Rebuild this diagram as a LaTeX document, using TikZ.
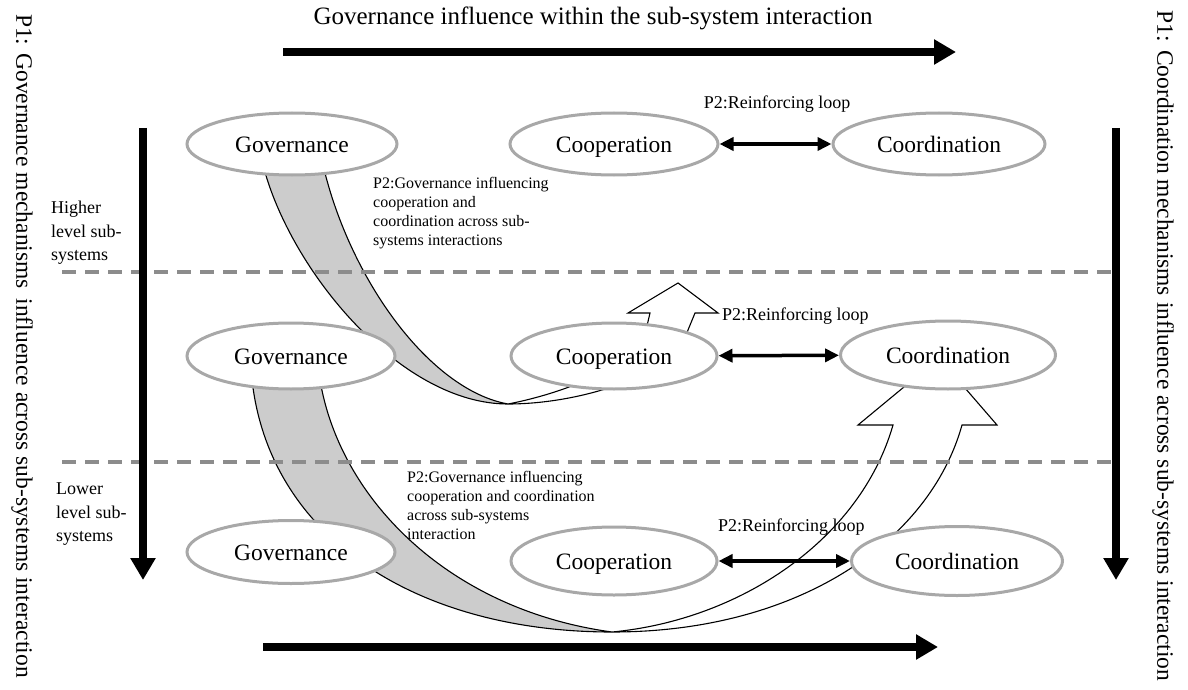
\documentclass[tikz,border=0pt]{standalone}
\usepackage{fontspec}
\setmainfont{Liberation Serif}
\usetikzlibrary{shapes.geometric,arrows.meta}
\definecolor{ringgray}{HTML}{A8A8A8}
\definecolor{bandgray}{HTML}{CCCCCC}
\definecolor{dashgray}{HTML}{8C8C8C}
\begin{document}
\begin{tikzpicture}[x=1pt,y=-1pt,
  mech/.style={ellipse, draw=ringgray, line width=3pt, fill=white, inner sep=0pt,
    text height=16pt, text depth=0pt, font=\fontsize{23.5}{28}\selectfont},
  band/.style={draw=black, line width=1.1pt},
  pair/.style={line width=3.5pt, {Triangle[length=14pt,width=13pt]}-{Triangle[length=14pt,width=13pt]}},
  bigarrow/.style={line width=8pt, -{Triangle[length=22pt,width=24pt]}},
  levelline/.style={draw=dashgray, line width=4pt, dash pattern=on 14pt off 9pt},
  note/.style={inner sep=0pt, align=left, font=\fontsize{16}{19}\selectfont},
  loopnote/.style={inner sep=0pt, font=\fontsize{18}{22}\selectfont},
  sidenote/.style={inner sep=0pt, align=left, font=\fontsize{18}{23.5}\selectfont},
  axisnote/.style={inner sep=0pt, rotate=-90, font=\fontsize{23.5}{28}\selectfont}
]
\useasboundingbox (0,0) rectangle (1188,690);

% influence band from the higher level down to the middle level
\path[band, fill=bandgray] (263,165) .. controls (290,270) and (400,404) .. (508,404)
  .. controls (430,390) and (350,280) .. (323,165) -- cycle;
\path[band, fill=white] (508,404) .. controls (580,404) and (675,375) .. (688,330)
  -- (695,313) -- (718,313) -- (678,283) -- (628,313) -- (650,313) -- (646,330)
  .. controls (630,372) and (550,396) .. (508,404) -- cycle;

% influence band from the middle level down to the lower level
\path[band, fill=bandgray] (252,380) .. controls (270,540) and (420,632) .. (612,632)
  .. controls (450,610) and (340,500) .. (320,380) -- cycle;
\path[band, fill=white] (612,632) .. controls (800,632) and (930,540) .. (962,425)
  -- (997,425) -- (939,358) -- (858,425) -- (893,425)
  .. controls (860,540) and (740,620) .. (612,632) -- cycle;

% level separators
\coordinate (sepAw) at (62,272);  \coordinate (sepAe) at (1115,272);
\coordinate (sepBw) at (62,462);  \coordinate (sepBe) at (1115,462);
\draw[levelline] (sepAw) -- (sepAe);
\draw[levelline] (sepBw) -- (sepBe);

% mechanisms on each level
\node[mech, minimum width=210pt, minimum height=62pt] (gov1)   at (292,144) {Governance};
\node[mech, minimum width=208pt, minimum height=62pt] (coop1)  at (614,144) {Cooperation};
\node[mech, minimum width=212pt, minimum height=62pt] (coord1) at (939,144) {Coordination};
\node[mech, minimum width=208pt, minimum height=66pt] (gov2)   at (291,356) {Governance};
\node[mech, minimum width=206pt, minimum height=66pt] (coop2)  at (614,356) {Cooperation};
\node[mech, minimum width=215pt, minimum height=68pt] (coord2) at (948,355) {Coordination};
\node[mech, minimum width=208pt, minimum height=63pt] (gov3)   at (291,552) {Governance};
\node[mech, minimum width=206pt, minimum height=68pt] (coop3)  at (614,561) {Cooperation};
\node[mech, minimum width=211pt, minimum height=69pt] (coord3) at (957,561) {Coordination};

% reinforcing loops
\draw[pair] (coop1) -- (coord1);
\draw[pair] (coop2) -- (coord2);
\draw[pair] (coop3) -- (coord3);

% axis arrows
\coordinate (topA) at (283,52);  \coordinate (topB) at (956,52);
\coordinate (botA) at (263,647); \coordinate (botB) at (938,647);
\coordinate (lefA) at (143,128); \coordinate (lefB) at (143,580);
\coordinate (rigA) at (1116,128); \coordinate (rigB) at (1116,580);
\draw[bigarrow] (topA) -- (topB);
\draw[bigarrow] (botA) -- (botB);
\draw[bigarrow] (lefA) -- (lefB);
\draw[bigarrow] (rigA) -- (rigB);

% labels
\node[inner sep=0pt, font=\fontsize{25}{30}\selectfont] (title) at (593,18)
  {Governance influence within the sub-system interaction};
\node[axisnote] (leftaxis) at (22,346)
  {P1: Governance mechanisms\, influence across sub-systems interaction};
\node[axisnote] (rightaxis) at (1163,346)
  {P1: Coordination mechanisms influence across sub-systems interaction};
\node[loopnote] (loop1) at (777,104) {P2:Reinforcing loop};
\node[loopnote, anchor=west] (loop2) at (722,316) {P2:Reinforcing loop};
\node[loopnote, anchor=west] (loop3) at (718,527) {P2:Reinforcing loop};
\node[note, anchor=north west] (gnoteA) at (373,177)
  {P2:Governance influencing\\cooperation and\\coordination across sub-\\systems interactions};
\node[note, anchor=north west] (gnoteB) at (407,471)
  {P2:Governance influencing\\cooperation and coordination\\across sub-systems\\interaction};
\node[sidenote, anchor=north west] (higher) at (51,201)
  {Higher\\level sub-\\systems};
\node[sidenote, anchor=north west] (lower) at (56,483)
  {Lower\\level sub-\\systems};
\end{tikzpicture}
\end{document}
